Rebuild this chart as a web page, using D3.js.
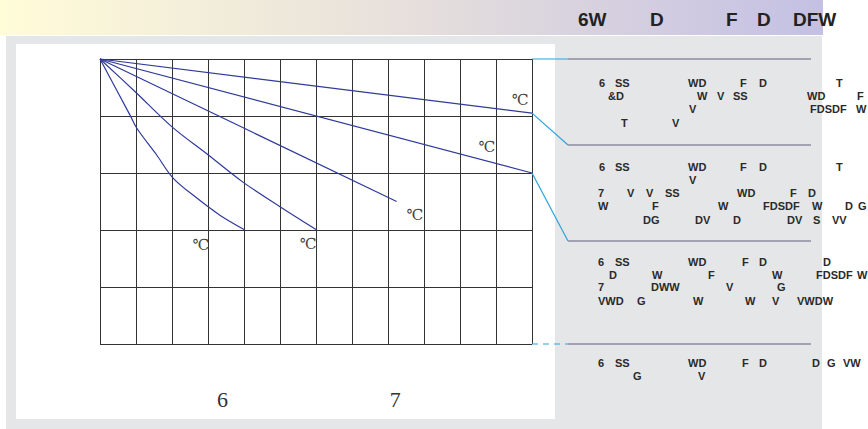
<!DOCTYPE html>
<html>
<head>
<meta charset="utf-8">
<script src="https://cdn.jsdelivr.net/npm/d3@7/dist/d3.min.js"></script>
<style>
  html, body { margin: 0; padding: 0; background: #fff; }
  svg { display: block; }
</style>
</head>
<body>
<div class="item"></div>
<script>
// 数据：网格列、行，各条曲线 (列单位, 行单位)
var colTicks = d3.range(0, 13);
var rowTicks = d3.range(0, 6);
var line1 = [[0, 0], [12, 0.95]];
var line2 = [[0, 0], [12, 2.0]];
var line3 = [[0, 0], [8.24, 2.5]];
var line4 = [[0, 0], [0.97, 0.57], [2.0, 1.19], [3.0, 1.68], [3.97, 2.16], [5.0, 2.59], [6.0, 2.99]];
var line5 = [[0, 0], [0.83, 0.98], [1.02, 1.21], [1.57, 1.68], [2.03, 2.09], [2.69, 2.44], [3.33, 2.74], [4.0, 2.99]];
var unitLabel = "℃";
var labelPos = [[11.67, 0.7], [10.75, 1.53], [8.75, 2.72], [5.78, 3.23], [2.8, 3.25]];
var bottomLabels = ["6", "7"];
var bottomLabelCols = [3.4, 8.2];
var headerTokens = ["6W", "D", "F", "D", "DFW"];

var width = 868;
var height = 429;

var svg = d3.select(".item")
    .append("svg")
    .attr("width", width)
    .attr("height", height);

// 渐变标题栏
var grad = svg.append("defs").append("linearGradient")
    .attr("id", "hdr").attr("x1", 0).attr("x2", 1).attr("y1", 0).attr("y2", 0);
grad.append("stop").attr("offset", 0).attr("stop-color", "#fffcd8");
grad.append("stop").attr("offset", 0.5).attr("stop-color", "#e6dfdc");
grad.append("stop").attr("offset", 1).attr("stop-color", "#c4c0e3");

svg.append("rect").attr("x", 0).attr("y", 0).attr("width", 823).attr("height", 35)
    .attr("fill", "url(#hdr)");

// 灰色底板与白色区域
svg.append("rect").attr("x", 6).attr("y", 36).attr("width", 816).attr("height", 393)
    .attr("fill", "#e5e6e8");
svg.append("rect").attr("x", 16).attr("y", 44).attr("width", 539).attr("height", 375)
    .attr("fill", "#ffffff");

// 标题文字
var headerX = [578, 650, 726, 757, 793];
svg.selectAll("text.hdr").data(headerTokens).enter().append("text")
    .attr("class", "hdr")
    .attr("x", function(d, i){ return headerX[i]; })
    .attr("y", 26)
    .style("font-family", "Liberation Sans Narrow, Liberation Sans, Arial, sans-serif")
    .style("font-weight", "bold")
    .style("font-size", "19px")
    .style("fill", "#222")
    .text(function(d){ return d; });

// 比例尺
var x = d3.scaleLinear().domain([0, 12]).range([100, 532]);
var y = d3.scaleLinear().domain([0, 5]).range([59, 344]);

var grid = svg.append("g");
grid.append("g")
    .attr("transform", "translate(0," + y(0) + ")")
    .call(d3.axisTop(x).tickValues(colTicks).tickSize(-(y(5) - y(0))).tickFormat(""))
    .call(function(g){ g.select(".domain").remove(); });
grid.append("g")
    .attr("transform", "translate(" + x(0) + ",0)")
    .call(d3.axisLeft(y).tickValues(rowTicks).tickSize(-(x(12) - x(0))).tickFormat(""))
    .call(function(g){ g.select(".domain").remove(); });
grid.selectAll("line")
    .attr("stroke", "#333")
    .attr("stroke-width", 1.4)
    .attr("shape-rendering", "crispEdges");

// 曲线
var lineGen = d3.line()
    .x(function(d){ return x(d[0]); })
    .y(function(d){ return y(d[1]); })
    .curve(d3.curveCatmullRom.alpha(0.5));

svg.selectAll("path.curve").data([line1, line2, line3, line4, line5]).enter()
    .append("path")
    .attr("class", "curve")
    .attr("d", lineGen)
    .attr("fill", "none")
    .attr("stroke", "#2f3a9a")
    .attr("stroke-width", 1.2);

svg.selectAll("text.unit").data(labelPos).enter().append("text")
    .attr("class", "unit")
    .attr("x", function(d){ return x(d[0]); })
    .attr("y", function(d){ return y(d[1]) + 6; })
    .attr("text-anchor", "middle")
    .style("font-family", "DejaVu Serif, serif")
    .style("font-size", "15px")
    .style("fill", "#444")
    .text(unitLabel);

svg.selectAll("text.bottom").data(bottomLabels).enter().append("text")
    .attr("class", "bottom")
    .attr("x", function(d, i){ return x(bottomLabelCols[i]); })
    .attr("y", 407)
    .attr("text-anchor", "middle")
    .style("font-family", "Liberation Serif, serif")
    .style("font-size", "22px")
    .style("fill", "#333")
    .text(function(d){ return d; });

// 右侧连接线
var panelLineY = [59, 145, 241, 344];
var chartPtY = [y(0), y(0.95), y(2.0), y(5)];
var cyan = "#2aa3dc";
panelLineY.forEach(function(py, i){
    var c = svg.append("line")
        .attr("x1", x(12)).attr("y1", chartPtY[i])
        .attr("x2", 568).attr("y2", py)
        .attr("stroke", cyan).attr("stroke-width", 1.2);
    if (i === 3) c.attr("stroke-dasharray", "6,5");
    svg.append("line")
        .attr("x1", 568).attr("y1", py).attr("x2", 811).attr("y2", py)
        .attr("stroke", "#8d8ba2").attr("stroke-width", 1.3);
});

// 右侧文字
var panelRows = [
  [86.5, [[599, "6"], [615, "SS"], [688, "WD"], [740, "F"], [759, "D"], [836, "T"]]],
  [99.5, [[608, "&D"], [697, "W"], [717, "V"], [733, "SS"], [807, "WD"], [857, "F"]]],
  [112.5, [[689, "V"], [810, "FDSDF"], [856, "W"]]],
  [126.5, [[621, "T"], [672, "V"]]],
  [171, [[599, "6"], [615, "SS"], [688, "WD"], [740, "F"], [759, "D"], [836, "T"]]],
  [184, [[689, "V"]]],
  [197, [[598, "7"], [627, "V"], [646, "V"], [665, "SS"], [737, "WD"], [790, "F"], [808, "D"]]],
  [210, [[598, "W"], [652, "F"], [718, "W"], [763, "FDSDF"], [812, "W"], [845, "D"], [858, "G"]]],
  [224, [[643, "DG"], [695, "DV"], [733, "D"], [787, "DV"], [813, "S"], [832, "VV"]]],
  [266, [[598, "6"], [615, "SS"], [688, "WD"], [742, "F"], [759, "D"], [823, "D"]]],
  [279, [[609, "D"], [652, "W"], [708, "F"], [772, "W"], [816, "FDSDF"], [857, "W"]]],
  [291, [[598, "7"], [651, "DWW"], [726, "V"], [777, "G"]]],
  [305, [[598, "VWD"], [637, "G"], [693, "W"], [745, "W"], [772, "V"], [797, "VWDW"]]],
  [367, [[598, "6"], [615, "SS"], [688, "WD"], [742, "F"], [759, "D"], [812, "D"], [827, "G"], [843, "VW"]]],
  [380, [[633, "G"], [698, "V"]]]
];

panelRows.forEach(function(row){
    svg.append("g").selectAll("text").data(row[1]).enter().append("text")
        .attr("x", function(d){ return d[0]; })
        .attr("y", row[0])
        .style("font-family", "Liberation Sans, Arial, sans-serif")
        .style("font-weight", "bold")
        .style("font-size", "11px")
        .style("fill", "#2a2a2a")
        .text(function(d){ return d[1]; });
});
</script>
</body>
</html>
